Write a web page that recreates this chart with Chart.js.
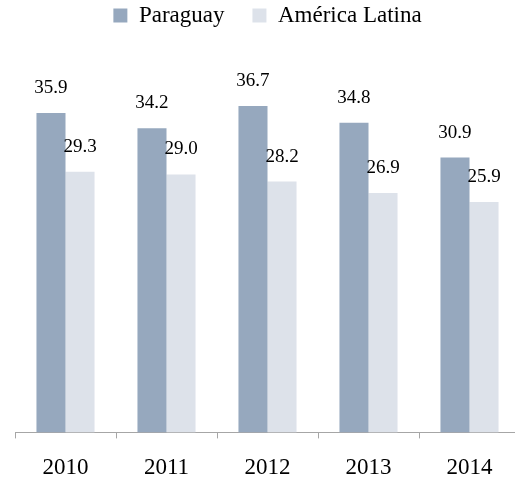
<!DOCTYPE html>
<html>
<head>
<meta charset="utf-8">
<script src="https://cdn.jsdelivr.net/npm/chart.js@4"></script>
<style>
html,body{margin:0;padding:0;background:#fff;overflow:hidden;}
#wrap{width:520px;height:479px;position:relative;}
</style>
</head>
<body>
<div id="wrap"><canvas id="c"></canvas></div>
<script>
const categories = ["2010", "2011", "2012", "2013", "2014"];
const paraguay = [35.9, 34.2, 36.7, 34.8, 30.9];
const americaLatina = [29.3, 29.0, 28.2, 26.9, 25.9];
const seriesNames = ["Paraguay", "América Latina"];

const FONT = "'Liberation Serif', 'DejaVu Serif', serif";

const valueLabels = {
  id: 'valueLabels',
  afterDatasetsDraw(chart) {
    const ctx = chart.ctx;
    ctx.save();
    ctx.font = "19px " + FONT;
    ctx.fillStyle = "#000";
    ctx.textAlign = "center";
    ctx.textBaseline = "middle";
    chart.data.datasets.forEach((ds, i) => {
      const meta = chart.getDatasetMeta(i);
      meta.data.forEach((bar, j) => {
        ctx.fillText(ds.data[j].toFixed(1), bar.x, bar.y - 25);
      });
    });
    ctx.restore();
  }
};

new Chart(document.getElementById('c'), {
  type: 'bar',
  data: {
    labels: categories,
    datasets: [
      { label: seriesNames[0], data: paraguay, backgroundColor: "#96a8be", borderWidth: 0 },
      { label: seriesNames[1], data: americaLatina, backgroundColor: "#dde2ea", borderWidth: 0 }
    ]
  },
  options: {
    responsive: true,
    maintainAspectRatio: false,
    animation: false,
    datasets: { bar: { categoryPercentage: 0.575, barPercentage: 1.0 } },
    layout: { padding: { left: 15, right: 0, top: -24, bottom: -19 } },
    plugins: {
      legend: {
        position: 'top',
        labels: {
          boxWidth: 14, boxHeight: 14, padding: 28,
          color: "#000",
          font: { family: FONT, size: 23 }
        }
      },
      tooltip: { enabled: false }
    },
    scales: {
      x: {
        offset: true,
        grid: { display: true, drawOnChartArea: false, drawTicks: true, tickLength: 6, color: "#a6a6a6", offset: true },
        border: { display: true, color: "#a6a6a6" },
        ticks: { color: "#000", font: { family: FONT, size: 23 }, padding: 16 }
      },
      y: {
        display: false,
        min: 0,
        max: 44.45
      }
    }
  },
  plugins: [valueLabels]
});
</script>
</body>
</html>
